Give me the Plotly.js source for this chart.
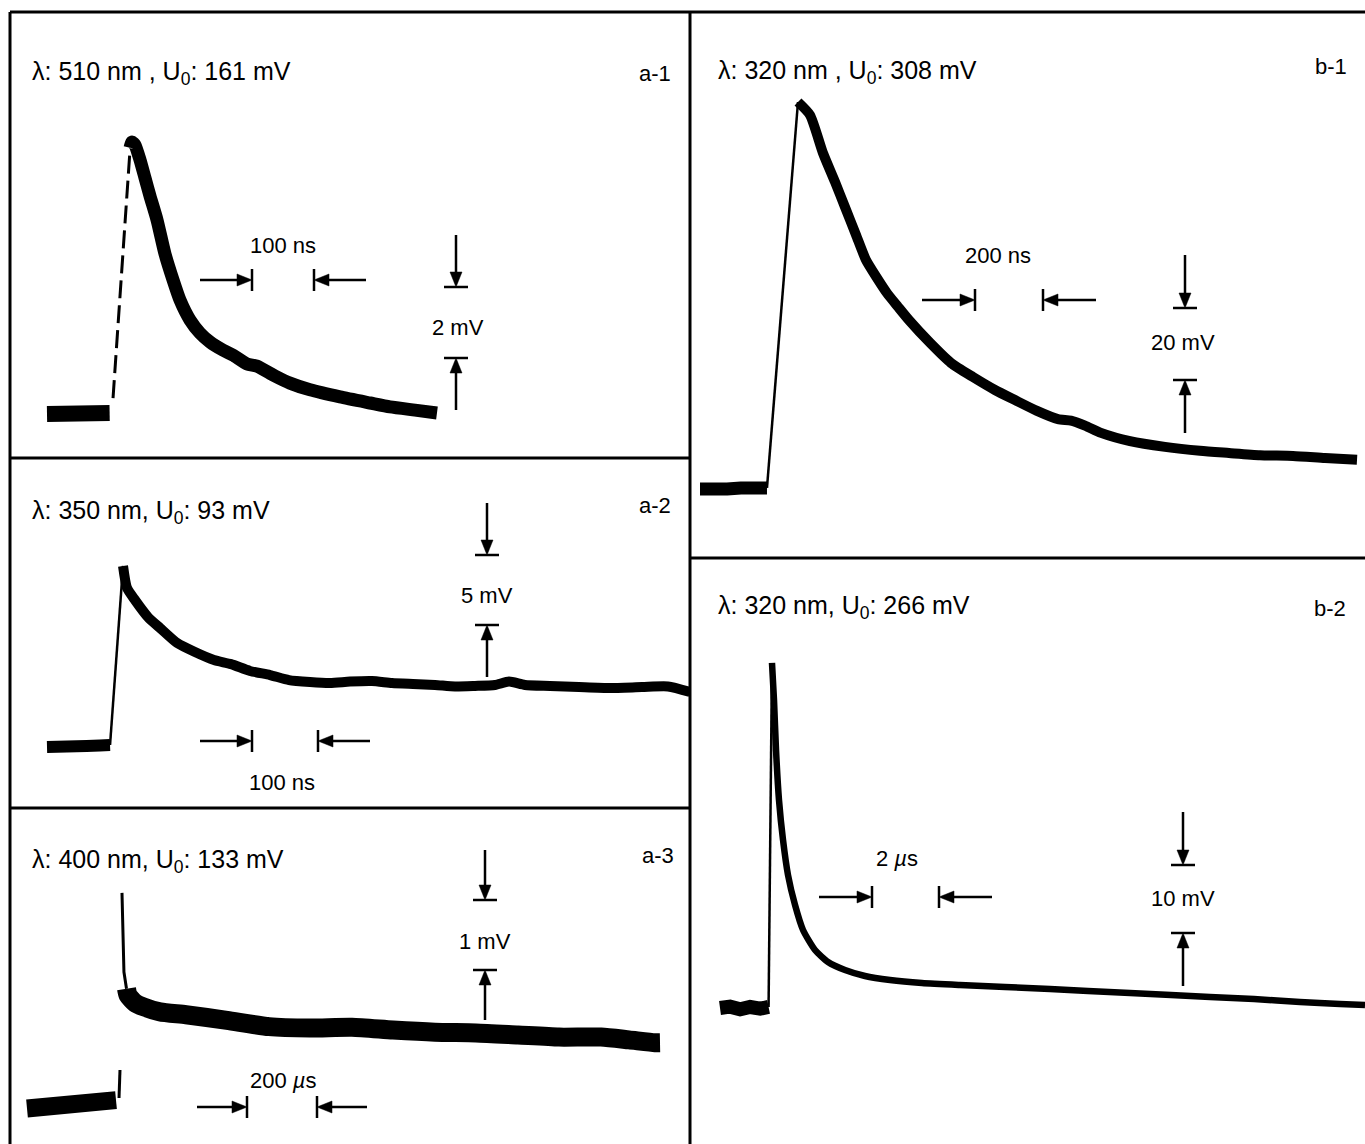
<!DOCTYPE html>
<html><head><meta charset="utf-8">
<script src="https://cdn.plot.ly/plotly-3.0.1.min.js"></script>
<style>html,body{margin:0;padding:0;background:#fff}#chart{width:1365px;height:1144px}</style>
</head><body><div id="chart"></div>
<script>
// ---------- DATA (time in ns or µs, signal in mV) ----------
const panelIds = ['a-1', 'a-2', 'a-3', 'b-1', 'b-2'];
const panelLabels = [
  'λ: 510 nm , U<sub>0</sub>: 161 mV',
  'λ: 350 nm, U<sub>0</sub>: 93 mV',
  'λ: 400 nm, U<sub>0</sub>: 133 mV',
  'λ: 320 nm , U<sub>0</sub>: 308 mV',
  'λ: 320 nm, U<sub>0</sub>: 266 mV'
];
const timeScale = [100, 100, 200, 200, 2];          // ns, ns, µs, ns, µs
const timeScaleLabels = ['100 ns', '100 ns', '200 <i>µ</i>s', '200 ns', '2 <i>µ</i>s'];
const voltScale = [2, 5, 1, 20, 10];                // mV
const voltScaleLabels = ['2 mV', '5 mV', '1 mV', '20 mV', '10 mV'];

// a-1  (ns, mV)
const a1BaseT = [0, 20, 40, 60, 80, 101];
const a1BaseV = [0.0, 0.02, -0.02, 0.04, 0.02, 0.03];
const a1RiseT = [106.5, 133.9];
const a1RiseV = [0.45, 7.44];
const a1DecayT = [133.9, 137.1, 141.9, 150.0, 158.1, 166.1, 177.4, 190.3, 203.2, 214.5, 230.6, 246.8, 262.9, 283.9, 300.0, 322.6, 338.7, 367.7, 391.9, 424.2, 472.6, 521.0, 553.2, 593.5, 629.0];
const a1DecayV = [7.50, 7.66, 7.58, 7.16, 6.65, 6.14, 5.47, 4.51, 3.78, 3.21, 2.65, 2.28, 2.03, 1.80, 1.66, 1.41, 1.35, 1.07, 0.87, 0.68, 0.48, 0.31, 0.20, 0.11, 0.03];

// a-2  (ns, mV)
const a2BaseT = [0, 20, 40, 60, 80, 95.5];
const a2BaseV = [-0.07, -0.10, -0.04, 0.0, 0.04, 0.07];
const a2RiseT = [95.5, 115.2];
const a2RiseV = [0.07, 12.86];
const a2DecayT = [115.2, 121.2, 133.3, 153.0, 171.2, 197.0, 224.2, 253.0, 278.8, 307.6, 337.9, 366.7, 398.5, 428.8, 459.1, 492.4, 522.7, 554.5, 587.9, 618.2, 648.5, 678.8, 700.0, 724.2, 762.1, 806.1, 853.0, 901.5, 940.9, 974.2];
const a2DecayV = [12.86, 11.29, 10.43, 9.21, 8.43, 7.36, 6.71, 6.14, 5.85, 5.36, 5.07, 4.71, 4.57, 4.50, 4.60, 4.64, 4.50, 4.43, 4.36, 4.25, 4.29, 4.36, 4.60, 4.36, 4.29, 4.21, 4.14, 4.21, 4.25, 3.86];

// a-3  (µs, mV)
const a3BaseT = [0, 40, 80, 120, 160, 200, 240, 254.3];
const a3BaseV = [-0.05, -0.04, -0.02, -0.01, 0.02, 0.04, 0.06, 0.07];
const a3SpikeT = [262.9, 265.7];
const a3SpikeV = [0.10, 0.50];
const a3FastT = [271.4, 277, 284.3];
const a3FastV = [3.03, 1.90, 1.66];
const a3TailT = [284.3, 288.6, 308.6, 334.3, 380.0, 454.3, 571.4, 691.4, 808.6, 928.6, 1045.7, 1165.7, 1282.9, 1402.9, 1520.0, 1640.0, 1720.0, 1794.3, 1808.6];
const a3TailV = [1.66, 1.57, 1.46, 1.40, 1.33, 1.29, 1.21, 1.12, 1.10, 1.11, 1.07, 1.04, 1.03, 1.00, 0.97, 0.97, 0.93, 0.89, 0.89];

// b-1  (ns, mV)
const b1BaseT = [0, 40, 80, 120, 160, 197];
const b1BaseV = [0.0, -0.3, 0.0, 0.3, 0.0, 0.3];
const b1RiseT = [197, 288.2];
const b1RiseV = [0.3, 107.5];
const b1DecayT = [288.2, 323.5, 361.8, 397.1, 426.5, 458.8, 488.2, 520.6, 550.0, 582.4, 614.7, 676.5, 738.2, 802.9, 867.6, 926.5, 991.2, 1052.9, 1091.2, 1132.4, 1179.4, 1264.7, 1367.6, 1470.6, 1555.9, 1647.1, 1744.1, 1838.2, 1932.4];
const b1DecayV = [107.5, 103.9, 93.3, 85.3, 78.3, 70.6, 63.6, 58.6, 54.4, 50.6, 46.9, 40.6, 35.0, 31.1, 27.5, 24.7, 21.7, 19.4, 19.0, 17.6, 15.6, 13.3, 11.7, 10.6, 10.0, 9.4, 9.2, 8.6, 8.1];

// b-2  (µs, mV)
const b2BaseT = [0, 0.3, 0.6, 0.9, 1.2, 1.45];
const b2BaseV = [0.0, 0.2, -0.2, 0.15, -0.1, 0.15];
const b2RiseT = [1.45, 1.552];
const b2RiseV = [0.15, 50.75];
const b2DecayT = [1.552, 1.612, 1.672, 1.761, 1.881, 2.030, 2.239, 2.478, 2.836, 3.224, 3.731, 4.328, 5.075, 6.030, 7.164, 8.507, 9.851, 10.985, 12.239, 13.463, 14.627, 15.940, 17.313, 18.507, 19.254];
const b2DecayV = [50.75, 45.31, 37.95, 30.60, 24.71, 19.56, 15.15, 11.47, 8.53, 6.77, 5.59, 4.71, 4.12, 3.68, 3.38, 3.09, 2.79, 2.50, 2.21, 1.91, 1.62, 1.32, 0.88, 0.59, 0.44];

// ---------- LAYOUT ----------
const W = 1365, H = 1144;
const FONT = 'Liberation Sans, Arial, Helvetica, sans-serif';
// box: panel frame [L,T,R,B] px; ox/oy: pixel of t=0 / v=0; hGap/vGap: pixel length of scale bars
// hTick: left tick of time bar (px), vTick: top tick of voltage bar (px)
// segs: [t, v, line width, dash, spline]
const panels = [
  {box:[10,12,690,458],  ox:47,  oy:414,  hGap:62, vGap:71, hTick:[252,280],  vTick:[456,287], arm:52,
   label:[30,73], idPos:[673,73], tLab:[283,245], vLab:[458,327],
   segs:[[a1BaseT,a1BaseV,16],[a1RiseT,a1RiseV,3,'18px,7px'],[a1DecayT,a1DecayV,13,null,true]]},
  {box:[10,458,690,808], ox:47,  oy:746,  hGap:66, vGap:70, hTick:[252,741],  vTick:[487,555], arm:52,
   label:[30,512], idPos:[673,505], tLab:[282,782], vLab:[487,595],
   segs:[[a2BaseT,a2BaseV,12],[a2RiseT,a2RiseV,2.5],[a2DecayT,a2DecayV,10,null,true]]},
  {box:[10,808,690,1144],ox:27,  oy:1105, hGap:70, vGap:70, hTick:[247,1107], vTick:[485,900], arm:50,
   label:[30,861], idPos:[676,855], tLab:[283,1080], vLab:[485,941],
   segs:[[a3BaseT,a3BaseV,18],[a3SpikeT,a3SpikeV,3],[a3FastT,a3FastV,3],[a3TailT,a3TailV,19,null,true]]},
  {box:[690,12,1365,558],ox:700, oy:489,  hGap:68, vGap:72, hTick:[975,300],  vTick:[1185,308], arm:53,
   label:[716,72], idPos:[1349,66], tLab:[998,256], vLab:[1183,343],
   segs:[[b1BaseT,b1BaseV,13],[b1RiseT,b1RiseV,2.5],[b1DecayT,b1DecayV,10,null,true]]},
  {box:[690,558,1365,1144],ox:720,oy:1008, hGap:67, vGap:68, hTick:[872,897],  vTick:[1183,865], arm:53,
   label:[716,607], idPos:[1348,609], tLab:[897,858], vLab:[1183,898],
   segs:[[b2BaseT,b2BaseV,14],[b2RiseT,b2RiseV,2.5],[b2DecayT,b2DecayV,6.5,null,true]]}
];

const traces = [];
const layout = {
  width: W, height: H, margin: {l:0, r:0, t:0, b:0},
  paper_bgcolor: '#fff', plot_bgcolor: 'rgba(0,0,0,0)',
  showlegend: false, font: {family: FONT, color: '#000', size: 22},
  shapes: [], annotations: []
};
const px = x => x / W, py = y => 1 - y / H;

panels.forEach((p, i) => {
  const n = i + 1;
  const xa = n === 1 ? 'x' : 'x' + n, ya = n === 1 ? 'y' : 'y' + n;
  const kx = p.hGap / timeScale[i], ky = p.vGap / voltScale[i];
  const [L, T, R, B] = p.box;
  layout['xaxis' + (n === 1 ? '' : n)] = {domain:[px(L), px(R)], range:[(L - p.ox)/kx, (R - p.ox)/kx],
    visible:false, fixedrange:true, anchor: ya};
  layout['yaxis' + (n === 1 ? '' : n)] = {domain:[py(B), py(T)], range:[(p.oy - B)/ky, (p.oy - T)/ky],
    visible:false, fixedrange:true, anchor: xa};
  p.segs.forEach(s => traces.push({x:s[0], y:s[1], xaxis:xa, yaxis:ya, mode:'lines',
    line:{color:'#000', width:s[2], dash:s[3] || 'solid', shape: s[4] ? 'spline' : 'linear', smoothing:0.6},
    hoverinfo:'skip'}));

  // scale bars: ticks placed in data units, separated by the scale length
  const tx = (p.hTick[0] - p.ox)/kx, ty = (p.oy - p.hTick[1])/ky;
  const sx = (p.vTick[0] - p.ox)/kx, sy = (p.oy - p.vTick[1])/ky;
  const a = p.arm;
  const pix = (x, y, path, fill) => layout.shapes.push({type:'path', xref:xa, yref:ya,
    xsizemode:'pixel', ysizemode:'pixel', xanchor:x, yanchor:y, path:path,
    line:{color:'#000', width: fill ? 0.5 : 2.5}, fillcolor: fill ? '#000' : 'rgba(0,0,0,0)'});
  const tx2 = tx + timeScale[i], sy2 = sy - voltScale[i];
  // right-pointing arrow to left tick
  pix(tx, ty, `M${-a},0 L-4,0`); pix(tx, ty, 'M-15,6 L0,0 L-15,-6 Z', true); pix(tx, ty, 'M0,-11 L0,11');
  // left-pointing arrow to right tick
  pix(tx2, ty, `M${a},0 L4,0`); pix(tx2, ty, 'M15,6 L0,0 L15,-6 Z', true); pix(tx2, ty, 'M0,-11 L0,11');
  // down arrow to upper tick
  pix(sx, sy, `M0,${a} L0,4`); pix(sx, sy, 'M-6,15 L0,0 L6,15 Z', true); pix(sx, sy, 'M-12,0 L12,0');
  // up arrow to lower tick
  pix(sx, sy2, `M0,${-a} L0,-4`); pix(sx, sy2, 'M-6,-15 L0,0 L6,-15 Z', true); pix(sx, sy2, 'M-12,0 L12,0');

  // texts
  const txt = (t, x, y, xanchor, size) => layout.annotations.push({text:t, x:px(x), y:py(y), xref:'paper', yref:'paper',
    xanchor:xanchor, yanchor:'middle', showarrow:false, font:{family:FONT, size:size, color:'#000'}});
  txt(panelLabels[i], p.label[0], p.label[1], 'left', 25);
  txt(panelIds[i], p.idPos[0], p.idPos[1], 'right', 22);
  txt(timeScaleLabels[i], p.tLab[0], p.tLab[1], 'center', 22);
  txt(voltScaleLabels[i], p.vLab[0], p.vLab[1], 'center', 22);
});

// panel frames
const frame = [[10,12,1365,12],[10,12,10,1144],[690,12,690,1144],[10,458,690,458],[10,808,690,808],[690,558,1365,558]];
frame.forEach(f => layout.shapes.push({type:'line', xref:'paper', yref:'paper',
  x0:px(f[0]), y0:py(f[1]), x1:px(f[2]), y1:py(f[3]), line:{color:'#000', width:3}}));

Plotly.newPlot('chart', traces, layout, {staticPlot:true, displayModeBar:false});
</script>
</body></html>
